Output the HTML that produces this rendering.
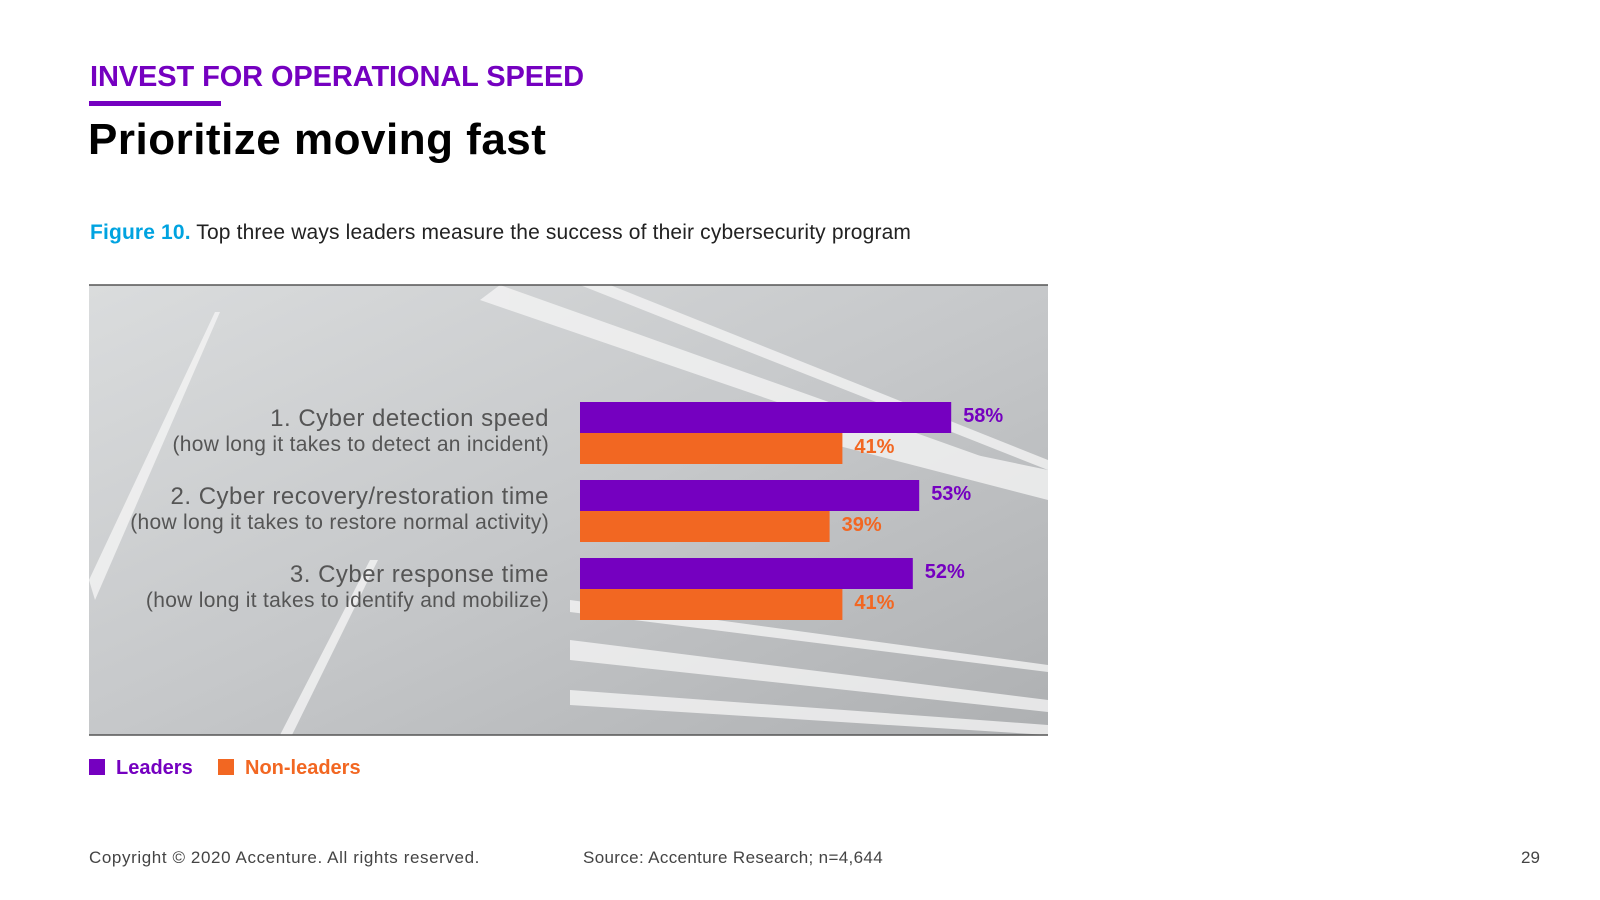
<!DOCTYPE html>
<html><head><meta charset="utf-8"><style>
body{margin:0;width:1600px;height:900px;background:#fff;font-family:"Liberation Sans",sans-serif;position:relative;overflow:hidden}
.a{position:absolute;white-space:nowrap}
</style></head><body>
<div class="a" style="left:90px;top:61px;font-size:29px;font-weight:bold;color:#7500c0;letter-spacing:-0.1px">INVEST FOR OPERATIONAL SPEED</div>
<div class="a" style="left:89px;top:101px;width:132px;height:5px;background:#7500c0"></div>
<div class="a" style="left:88px;top:115px;font-size:44px;font-weight:bold;color:#000;letter-spacing:0.5px">Prioritize moving fast</div>
<div class="a" style="left:90px;top:221px;font-size:21px;color:#222;letter-spacing:0.15px"><b style="color:#00a3e0">Figure 10.</b> Top three ways leaders measure the success of their cybersecurity program</div>
<svg class="a" style="left:0;top:0" width="1600" height="900" id="chart">
<defs><linearGradient id="bg" x1="0" y1="0" x2="1" y2="1"><stop offset="0" stop-color="#dadcdd"/><stop offset="0.5" stop-color="#c6c8ca"/><stop offset="1" stop-color="#aeb0b2"/></linearGradient></defs>
<rect x="89" y="285" width="959" height="450" fill="url(#bg)"/>
<g fill="#f4f4f4" opacity="0.8">
<polygon points="89,580 215,312 220,312 95,600"/>
<polygon points="280,735 370,560 378,560 292,735"/>
<polygon points="480,300 500,285 1048,480 1048,495"/>
<polygon points="580,285 610,285 1048,460 1048,470"/>
<polygon points="700,410 760,410 1048,470 1048,500"/>
<polygon points="570,640 1048,700 1048,712 570,660"/>
<polygon points="570,690 1048,725 1048,735 570,705"/>
<polygon points="570,600 1048,665 1048,672 570,612"/>
</g>
<line x1="89" y1="285" x2="1048" y2="285" stroke="#555" stroke-width="1.5"/>
<line x1="89" y1="735" x2="1048" y2="735" stroke="#555" stroke-width="1.5"/>
</svg>
<div class="a" style="left:89px;top:757px;font-size:20px;font-weight:bold;color:#7500c0"><span style="display:inline-block;width:16px;height:16px;background:#7500c0;vertical-align:-1px;margin-right:11px"></span>Leaders</div>
<div class="a" style="left:218px;top:757px;font-size:20px;font-weight:bold;color:#f26722"><span style="display:inline-block;width:16px;height:16px;background:#f26722;vertical-align:-1px;margin-right:11px"></span>Non-leaders</div>
<div class="a" style="left:89px;top:848px;font-size:17px;color:#444;letter-spacing:0.6px">Copyright © 2020 Accenture. All rights reserved.</div>
<div class="a" style="left:583px;top:848px;font-size:17px;color:#444;letter-spacing:0.35px">Source: Accenture Research; n=4,644</div>
<div class="a" style="left:1521px;top:848px;font-size:17px;color:#444">29</div>
<script>
const categories=["1. Cyber detection speed","2. Cyber recovery/restoration time","3. Cyber response time"];
const subtitles=["(how long it takes to detect an incident)","(how long it takes to restore normal activity)","(how long it takes to identify and mobilize)"];
const leaders=[58,53,52];
const nonLeaders=[41,39,41];
const NS="http://www.w3.org/2000/svg";
const svg=document.getElementById('chart');
const x0=580,pxPer=6.4,y0=402,step=78,bh=31;
const xs=v=>v*pxPer;
function mk(t,a){const e=document.createElementNS(NS,t);for(const k in a)e.setAttribute(k,a[k]);svg.appendChild(e);return e;}
categories.forEach((c,i)=>{
 const y=y0+i*step;
 const b1=mk('rect',{x:x0,y:y,width:xs(leaders[i]),height:bh,fill:'#7500c0'});
 
 
 const b2=mk('rect',{x:x0,y:y+bh,width:xs(nonLeaders[i]),height:bh,fill:'#f26722'});
 
 
 const t1=mk('text',{x:x0+xs(leaders[i])+12,y:y+20,'font-size':20,'font-weight':'bold',fill:'#7500c0','font-family':'Liberation Sans'});
 t1.textContent=leaders[i]+'%';
 
 
 const t2=mk('text',{x:x0+xs(nonLeaders[i])+12,y:y+bh+20,'font-size':20,'font-weight':'bold',fill:'#f26722','font-family':'Liberation Sans'});
 t2.textContent=nonLeaders[i]+'%';
 
 
 const l1=mk('text',{x:549,y:y+24,'font-size':24,fill:'#555','text-anchor':'end','font-family':'Liberation Sans','letter-spacing':'0.5'});
 l1.textContent=c;
 
 
 const l2=mk('text',{x:549,y:y+49,'font-size':21,fill:'#555','text-anchor':'end','font-family':'Liberation Sans','letter-spacing':'0.3'});
 l2.textContent=subtitles[i];
 
 
});
</script>
</body></html>
